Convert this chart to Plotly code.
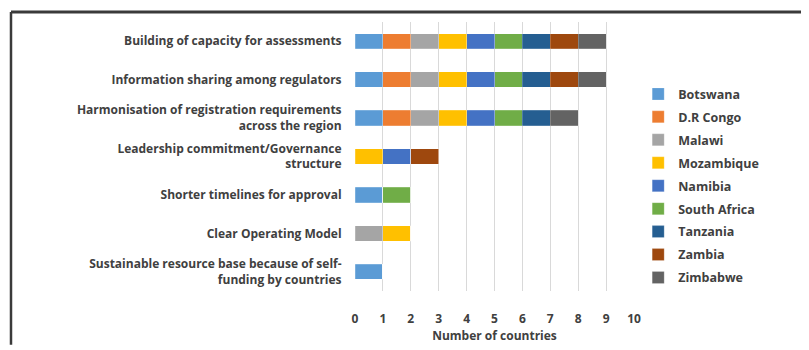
import plotly.graph_objects as go

categories = [
    "Building of capacity for assessments",
    "Information sharing among regulators",
    "Harmonisation of registration requirements<br>across the region",
    "Leadership commitment/Governance<br>structure",
    "Shorter timelines for approval",
    "Clear Operating Model",
    "Sustainable resource base because of self-<br>funding by countries",
]
countries = ["Botswana", "D.R Congo", "Malawi", "Mozambique", "Namibia",
             "South Africa", "Tanzania", "Zambia", "Zimbabwe"]
colors = ["#5B9BD5", "#ED7D31", "#A5A5A5", "#FFC000", "#4472C4",
          "#70AD47", "#255E91", "#9E480E", "#636363"]
# values per country, in category order
botswana =     [1, 1, 1, 0, 1, 0, 1]
dr_congo =     [1, 1, 1, 0, 0, 0, 0]
malawi =       [1, 1, 1, 0, 0, 1, 0]
mozambique =   [1, 1, 1, 1, 0, 1, 0]
namibia =      [1, 1, 1, 1, 0, 0, 0]
south_africa = [1, 1, 1, 0, 1, 0, 0]
tanzania =     [1, 1, 1, 0, 0, 0, 0]
zambia =       [1, 1, 0, 1, 0, 0, 0]
zimbabwe =     [1, 1, 1, 0, 0, 0, 0]
series = [botswana, dr_congo, malawi, mozambique, namibia,
          south_africa, tanzania, zambia, zimbabwe]
x_ticks = list(range(0, 11))

FONT = "Open Sans"
TXT = "#404040"

fig = go.Figure()
for name, vals, col in zip(countries, series, colors):
    fig.add_trace(go.Bar(
        y=categories, x=vals, name=name, orientation="h", legendgroup=name,
        marker=dict(color=col, line=dict(color="rgba(255,255,255,0.4)", width=0.5)),
        width=0.4,
    ))

# the page body keeps its default 8px margin, so the figure is sized to fit
fig.update_layout(
    width=801, height=342,
    barmode="stack",
    plot_bgcolor="white", paper_bgcolor="white",
    margin=dict(l=347, r=175, t=14, b=48),
    font=dict(family=FONT, size=12, color=TXT),
    legend=dict(
        x=1.015, y=0.787, xanchor="left", yanchor="top",
        traceorder="grouped",
        font=dict(family=FONT, size=12.5, color=TXT, weight="bold"),
        itemwidth=30, tracegroupgap=3.7,
    ),
    xaxis=dict(
        range=[0, 10], tickvals=x_ticks, showgrid=True, gridcolor="#D9D9D9",
        gridwidth=1, zeroline=False, showline=False,
        ticks="outside", ticklen=17, tickcolor="rgba(0,0,0,0)",
        tickfont=dict(family=FONT, size=12, color=TXT, weight="bold"),
        title=dict(text="Number of countries", standoff=2,
                   font=dict(family=FONT, size=12, color=TXT, weight="bold")),
    ),
    yaxis=dict(
        autorange="reversed", showgrid=False, zeroline=False, showline=False,
        ticks="outside", ticklen=10, tickcolor="rgba(0,0,0,0)",
        tickfont=dict(family=FONT, size=12, color=TXT, weight="bold"),
    ),
    shapes=[
        dict(type="line", xref="paper", yref="paper", x0=-1.233, x1=1.7, y0=1.0375, y1=1.0375,
             line=dict(color="#3a3a3a", width=3), layer="above"),
        dict(type="line", xref="paper", yref="paper", x0=-1.233, x1=-1.233, y0=1.0375, y1=-0.2,
             line=dict(color="#3a3a3a", width=2.5), layer="above"),
    ],
)

fig.write_html("out.html", config={"displayModeBar": False})
